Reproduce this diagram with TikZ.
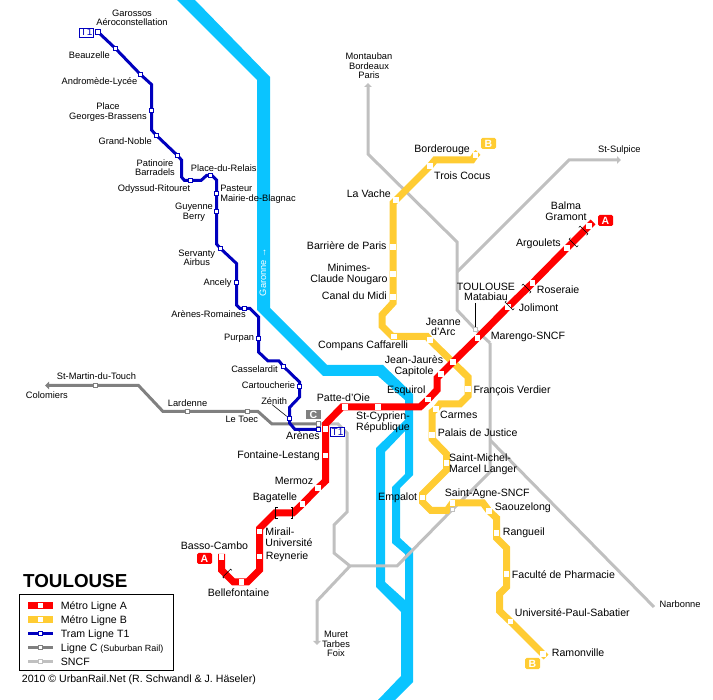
\documentclass[tikz,border=0pt]{standalone}
\usepackage{fontspec}
\setmainfont{Liberation Sans}
\usetikzlibrary{arrows.meta,backgrounds}
\definecolor{rivercol}{HTML}{0AC4FF}
\definecolor{linea}{HTML}{FF0000}
\definecolor{lineb}{HTML}{FFCC33}
\definecolor{linet}{HTML}{0000BE}
\definecolor{linec}{HTML}{808080}
\definecolor{lines}{HTML}{C0C0C0}
\tikzset{
    big/.style={inner sep=0pt, align=center, font=\fontsize{10.6}{10.6}\selectfont},
    small/.style={inner sep=0pt, align=center, font=\fontsize{9.3}{9.6}\selectfont},
    stopm/.style={rectangle, fill=white, minimum size=5.5pt, inner sep=0pt},
    stopt/.style={rectangle, draw=linet, line width=0.9pt, fill=white, minimum size=4.6pt, inner sep=0pt},
    stopc/.style={rectangle, draw=linec, line width=0.9pt, fill=white, minimum size=4.6pt, inner sep=0pt},
    stops/.style={rectangle, draw=lines, line width=0.9pt, fill=white, minimum size=4.6pt, inner sep=0pt},
    metroa/.style={draw=linea, line width=7pt},
    metrob/.style={draw=lineb, line width=7pt},
    tram/.style={draw=linet, line width=3pt},
    ligc/.style={draw=linec, line width=3pt},
    sncf/.style={draw=lines, line width=3pt},
    tipped/.style={-{Triangle[length=4pt,width=7.5pt]}},
    tagbox/.style={rectangle, rounded corners=1.5pt, minimum width=15pt, minimum height=11pt, inner sep=0pt, text=white, font=\fontsize{10.5}{10.5}\selectfont\bfseries},
    tagline/.style={rectangle, draw=linet, line width=0.8pt, fill=white, text=linet, minimum width=14pt, minimum height=9pt, inner sep=0pt, font=\fontsize{10}{10}\selectfont},
    portal/.pic={\draw[black, line width=0.6pt] (1.8,-5.5)--(0,-5.5)--(0,5.5)--(1.8,5.5);}
}
\begin{document}
\begin{tikzpicture}[x=1pt, y=-1pt]
    \useasboundingbox (0,0) rectangle (713,700);

    % stations
    \foreach \n/\x/\y in {balma/589/226, argoulets/567/248, roseraie/532.5/283, jolimont/508/307,
        marengo/477.5/338, jaures/453/362, capitole/441/374, esquirol/428/399.5, cyprien/378/407,
        patte/345/407, stationa/325.5/429, fontaine/325.5/455.5, mermoz/318/488, bagatelle/302.5/504,
        mirail/259.5/531.5, reynerie/259.5/556.5, bellefont/241.5/582, basso/221.5/557,
        borderouge/475.5/155, cocus/430/166, vache/396/200, barriere/393/247, minimes/393/274,
        canal/393/297, compans/394/336.5, jeanne/430/340, verdier/468/389, carmes/436/409,
        palais/432/435, michel/446.5/463, empalot/422.5/497.5, agneb/452.5/503, saouzelong/489/511,
        rangueil/496.5/533, faculte/506.5/574, sabatier/510.5/621.5, ramonville/543/654}
        \node[stopm] (\n) at (\x,\y) {};
    \foreach \n/\x/\y in {garossos/98/32, beauzelle/115.5/48.5, andromede/140.5/74.5, brassens/151.5/110.5,
        noble/156.5/135.5, patinoire/177.5/155.5, odyssud/190.5/180.5, relais/210.5/175.5,
        pasteur/216.5/193.5, guyenne/216.5/211.5, servanty/220.5/248.5, ancely/236.5/282.5,
        romaines/244.5/308.5, purpan/258.5/338.5, casselardit/283.5/366.5, cartoucherie/299.5/386.5,
        zenith/289.5/418.5, arenes/318.5/429.5}
        \node[stopt] (\n) at (\x,\y) {};
    \foreach \n/\x/\y in {stmartin/95.5/385.5, lardenne/187.5/411.5, toec/247.5/411.5, arenesc/318.5/424}
        \node[stopc] (\n) at (\x,\y) {};
    \foreach \n/\x/\y in {matabiau/475.5/329.5, agnes/452.5/509.5}
        \node[stops] (\n) at (\x,\y) {};

    % free ends of the rail lines
    \coordinate (north) at (368,83);
    \coordinate (sulpice) at (621,160);
    \coordinate (narbonne) at (654,607);
    \coordinate (muret) at (317,645);
    \coordinate (colomiers) at (45,385.5);

    \begin{scope}[on background layer]
        % Garonne
        \fill[rivercol, even odd rule] (177,0)--(195,0)--(270,77)--(270,308)--(327,365)--(383,365)--(413,394)
            --(413,475)--(400,488)--(400,538)--(413,550)--(413,682)--(395,700)--(378,700)--(401,676)--(401,612)
            --(376,587)--(376,448)--(405,420)--(405,400)--(378,376)--(323,376)--(257,310)--(257,80)--cycle
            (405,431)--(385,452)--(385,582)--(405,600)--(405,554)--(392,543)--(392,487)--(405,474)--cycle;
        % SNCF
        \draw[sncf, tipped] (457,272)--(569,160)--(sulpice);
        \draw[sncf] (490,440)--(narbonne);
        \draw[sncf, tipped] (350,566)--(317,601)--(muret);
        \draw[sncf, tipped] (490,343)--(matabiau.center)--(457,310)--(457,242)--(368,154)--(north);
        \draw[sncf] (490,343)--(490,472)--(agnes.center)--(397,566)--(350,566)--(334,553)--(334,525)--(347,512)
            --(347,433)--(338,424)--(arenesc.center);
        % ligne C
        \draw[ligc, tipped] (arenesc.center)--(272,424)--(258,411.5)--(toec.center)--(lardenne.center)--(163,411.5)
            --(138.5,385.5)--(stmartin.center)--(colomiers);
        % metro B
        \draw[metrob] (478,152.5)--(borderouge.center)--(472,160)--(435,160)--(cocus.center)--(vache.center)
            --(393,203)--(barriere.center)--(minimes.center)--(canal.center)--(393,303)--(382,315)--(382,326)
            --(392.5,336.5)--(compans.center)--(427,336.5)--(jeanne.center)--(468,377)--(verdier.center)--(468,396)
            --(460,404)--(440,404)--(carmes.center)--(432,412)--(palais.center)--(432,439)--(446.5,454)
            --(michel.center)--(446.5,470)--(422.5,494)--(empalot.center)--(422.5,502)--(431,510.5)--(447,510.5)
            --(agneb.center)--(483,503)--(saouzelong.center)--(496.5,518)--(rangueil.center)--(496.5,538)
            --(506.5,548)--(faculte.center)--(506.5,587)--(499.5,594)--(499.5,611)--(sabatier.center)
            --(ramonville.center)--(546,657);
        % metro A
        \draw[metroa] (593,222)--(balma.center)--(argoulets.center)--(roseraie.center)--(jolimont.center)
            --(marengo.center)--(jaures.center)--(capitole.center)--(437,378)--(437,390)--(esquirol.center)
            --(420,407)--(cyprien.center)--(patte.center)--(342,407)--(325.5,424)--(stationa.center)
            --(fontaine.center)--(325.5,481)--(mermoz.center)--(bagatelle.center)--(293,513)--(275,513)
            --(259.5,528.5)--(mirail.center)--(reynerie.center)--(259.5,570)--(247.5,582)--(bellefont.center)
            --(233.5,582)--(221.5,570)--(basso.center)--(221.5,554);
        % tram T1
        \draw[tram] (garossos.center)--(beauzelle.center)--(andromede.center)--(151.5,84.5)--(brassens.center)
            --(151.5,130)--(noble.center)--(patinoire.center)--(181.5,160)--(181.5,177)--(184.5,180.5)
            --(odyssud.center)--(201,180.5)--(206.5,175.5)--(relais.center)--(212,175.5)--(216.5,180)--(pasteur.center)
            --(guyenne.center)--(216.5,244)--(servanty.center)--(236.5,263.5)--(ancely.center)--(236.5,305)
            --(240,308.5)--(romaines.center)--(250,308.5)--(258.5,317)--(purpan.center)--(258.5,352)--(268,361)
            --(279,361)--(casselardit.center)--(299.5,382)--(cartoucherie.center)--(299.5,397)--(289.5,407.5)
            --(zenith.center)--(289.5,423)--(295,429.5)--(arenes.center);
    \end{scope}

    % tunnel marks
    \foreach \n/\x/\y/\a in {p1/584/230/225, p2/573/243/45, p3/527/288/225, p4/509/306/45,
        p5/226.7/573/-45, p6/275.7/513/0, p7/292.3/513/180}
        \pic (\n) at (\x,\y) [rotate=\a] {portal};

    % line tags
    \node[tagbox, fill=linea] (taga1) at (605.5,220.5) {A};
    \node[tagbox, fill=linea] (taga2) at (204.5,558.5) {A};
    \node[tagbox, fill=lineb] (tagb1) at (488.5,143.5) {B};
    \node[tagbox, fill=lineb] (tagb2) at (532.5,663.5) {B};
    \node[tagbox, fill=linec, minimum height=9.5pt, rounded corners=0pt] (tagc) at (313.5,414.5) {C};
    \node[tagline] (tagt1) at (86.5,32.5) {T1};
    \node[tagline] (tagt2) at (337.5,432) {T1};

    % leaders
    \draw[black, line width=0.6pt] (475.5,303)--(matabiau);
    \draw[black, line width=0.6pt] (272,404.5)--(zenith);

    % river name
    \node[small, text=white, rotate=90] (garonne) at (263,272) {Garonne →};

    % tram labels
    \node[small] (garossostxt) at (132,18) {Garossos\\Aéroconstellation};
    \node[small, anchor=base east] (beauzelletxt) at (110,59) {Beauzelle};
    \node[small, anchor=base east] (andromedetxt) at (137.5,85) {Andromède-Lycée};
    \node[small] (brassenstxt) at (108,112) {Place\\Georges-Brassens};
    \node[small, anchor=base east] (nobletxt) at (152,144.5) {Grand-Noble};
    \node[small] (patinoiretxt) at (155,167.5) {Patinoire\\Barradels};
    \node[small, anchor=base west] (relaistxt) at (190.7,171.7) {Place-du-Relais};
    \node[small, anchor=base west] (odyssudtxt) at (117.7,192) {Odyssud-Ritouret};
    \node[small, align=left] (pasteurtxt) at (258,194) {Pasteur\\Mairie-de-Blagnac};
    \node[small] (guyennetxt) at (194,212) {Guyenne\\Berry};
    \node[small] (servantytxt) at (196.8,258) {Servanty\\Airbus};
    \node[small, anchor=base east] (ancelytxt) at (231.7,285.7) {Ancely};
    \node[small, anchor=base east] (romainestxt) at (246,317.7) {Arènes-Romaines};
    \node[small, anchor=base east] (purpantxt) at (254.3,340.7) {Purpan};
    \node[small, anchor=base east] (casselardittxt) at (278,372.7) {Casselardit};
    \node[small, anchor=base east] (cartoucherietxt) at (295.3,389) {Cartoucherie};
    \node[small, anchor=base east] (zenithtxt) at (287.3,404.3) {Zénith};
    \node[big, anchor=base east] (arenestxt) at (320,440) {Arènes};

    % ligne C and SNCF labels
    \node[small, anchor=base east] (toectxt) at (258.3,422.3) {Le Toec};
    \node[small, anchor=base west] (lardennetxt) at (167.7,406.7) {Lardenne};
    \node[small, anchor=base west] (stmartintxt) at (56.7,380) {St-Martin-du-Touch};
    \node[small, anchor=base west] (colomierstxt) at (25.7,399) {Colomiers};
    \node[small] (northtxt) at (369,66) {Montauban\\Bordeaux\\Paris};
    \node[small, anchor=base west] (sulpicetxt) at (598,153) {St-Sulpice};
    \node[small, anchor=base west] (narbonnetxt) at (659.5,607.7) {Narbonne};
    \node[small] (murettxt) at (336,644) {Muret\\Tarbes\\Foix};

    % metro A labels
    \node[big] (balmatxt) at (566,211) {Balma\\Gramont};
    \node[big, anchor=base east] (argouletstxt) at (561,246.7) {Argoulets};
    \node[big, anchor=base west] (roseraietxt) at (536.7,293.3) {Roseraie};
    \node[big, anchor=base west] (jolimonttxt) at (518.7,311.7) {Jolimont};
    \node[big] (matabiautxt) at (486,292) {TOULOUSE\\Matabiau};
    \node[big, anchor=base west] (marengotxt) at (490.7,339.7) {Marengo-SNCF};
    \node[big] (jaurestxt) at (414,366) {Jean-Jaurès\\Capitole};
    \node[big, anchor=base east] (esquiroltxt) at (425.7,394) {Esquirol};
    \node[big, align=left] (cyprientxt) at (383,422) {St-Cyprien-\\République};
    \node[big, anchor=base west] (pattetxt) at (316.7,401.7) {Patte-d'Oie};
    \node[big, anchor=base east] (fontainetxt) at (320,458.3) {Fontaine-Lestang};
    \node[big, anchor=base east] (mermoztxt) at (313.3,484.7) {Mermoz};
    \node[big, anchor=base east] (bagatelletxt) at (297.3,500.7) {Bagatelle};
    \node[big, align=left] (mirailtxt) at (289,537) {Mirail-\\Université};
    \node[big, anchor=base west] (reynerietxt) at (265.7,559.3) {Reynerie};
    \node[big, anchor=base west] (bassotxt) at (180.7,549.3) {Basso-Cambo};
    \node[big, anchor=base west] (bellefonttxt) at (207.7,596.7) {Bellefontaine};

    % metro B labels
    \node[big, anchor=base east] (borderougetxt) at (470,152.7) {Borderouge};
    \node[big, anchor=base west] (cocustxt) at (434,179.3) {Trois Cocus};
    \node[big, anchor=base east] (vachetxt) at (391,197.3) {La Vache};
    \node[big, anchor=base east] (barrieretxt) at (386.7,249.3) {Barrière de Paris};
    \node[big] (minimestxt) at (349,274) {Minimes-\\Claude Nougaro};
    \node[big, anchor=base east] (canaltxt) at (387,300) {Canal du Midi};
    \node[big, anchor=base east] (compantxt) at (408.3,348.3) {Compans Caffarelli};
    \node[big] (jeannetxt) at (443.3,327) {Jeanne\\d'Arc};
    \node[big, anchor=base west] (verdiertxt) at (473.3,393.3) {François Verdier};
    \node[big, anchor=base west] (carmestxt) at (440,418.7) {Carmes};
    \node[big, anchor=base west] (palaistxt) at (437.7,436.7) {Palais de Justice};
    \node[big, align=left] (micheltxt) at (483,464) {Saint-Michel-\\Marcel Langer};
    \node[big, anchor=base east] (empalottxt) at (417.3,500.7) {Empalot};
    \node[big, anchor=base west] (agnetxt) at (444.7,496.7) {Saint-Agne-SNCF};
    \node[big, anchor=base west] (saouzelongtxt) at (494.7,510.7) {Saouzelong};
    \node[big, anchor=base west] (rangueiltxt) at (502.7,535.3) {Rangueil};
    \node[big, anchor=base west] (facultetxt) at (511.7,578.7) {Faculté de Pharmacie};
    \node[big, anchor=base west] (sabatiertxt) at (514.7,616.7) {Université-Paul-Sabatier};
    \node[big, anchor=base west] (ramonvilletxt) at (551.7,656) {Ramonville};

    % legend
    \node[inner sep=0pt, anchor=base west, font=\fontsize{18.8}{18.8}\selectfont\bfseries] (title) at (23,588) {TOULOUSE};
    \node[draw=black, line width=0.8pt, minimum width=154pt, minimum height=76pt, inner sep=0pt] (legendbox) at (96.5,632.3) {};
    \foreach \n/\y/\sty/\sto/\txt in {a/605.5/metroa/stopm/{Métro Ligne A}, b/619.5/metrob/stopm/{Métro Ligne B},
        t/633.5/tram/stopt/{Tram Ligne T1},
        c/647.5/ligc/stopc/{Ligne C {\fontsize{9}{9}\selectfont (Suburban Rail)}}, s/661.5/sncf/stops/{SNCF}} {
        \coordinate (leg\n l) at (28,\y);
        \coordinate (leg\n r) at (53,\y);
        \draw[\sty] (leg\n l)--(leg\n r);
        \node[\sto] (leg\n) at (40.5,\y) {};
        \node[big, anchor=base west] (leg\n txt) at (60.7,\y+3.8) {\txt};
    }
    \node[big, anchor=base west] (credit) at (21.7,682.7) {2010 © UrbanRail.Net (R. Schwandl \& J. Häseler)};
\end{tikzpicture}
\end{document}
